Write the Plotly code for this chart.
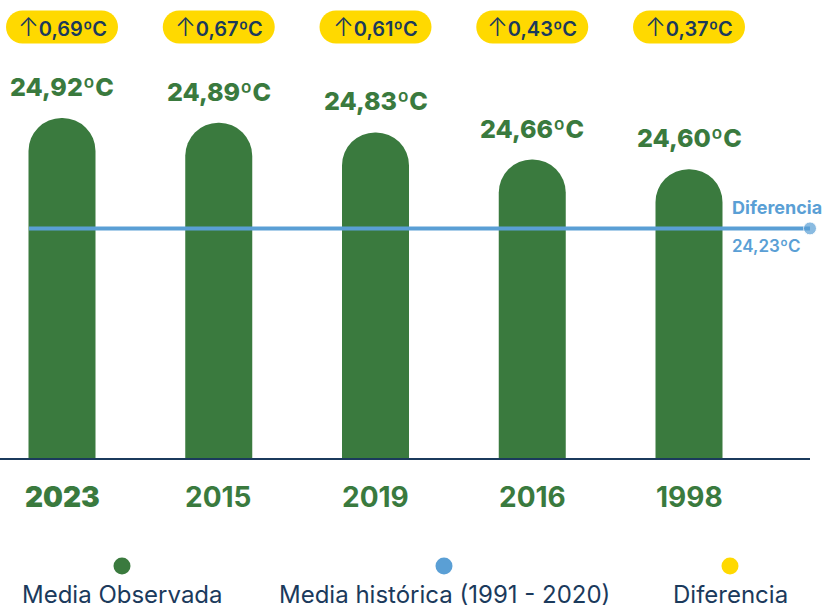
import plotly.graph_objects as go

# ---- data ----
years = ["2023", "2015", "2019", "2016", "1998"]
observed = [24.92, 24.89, 24.83, 24.66, 24.60]
observed_labels = ["24,92ºC", "24,89ºC", "24,83ºC", "24,66ºC", "24,60ºC"]
differences = ["0,69ºC", "0,67ºC", "0,61ºC", "0,43ºC", "0,37ºC"]
historical = 24.23
historical_label = "24,23ºC"
legend_names = ["Media Observada", "Media histórica (1991 - 2020)", "Diferencia"]

# ---- style ----
GREEN = "#3a7a3e"
BLUE = "#5a9fd5"
YELLOW = "#ffd900"
NAVY = "#1b3a5c"
FONT = "Inter"

W, H = 825, 608
ML, MR, MT, MB = 0, 15, 0, 150
PW, PH = W - ML - MR, H - MT - MB
STEP = 156.75          # px between category centres
FIRST = 62             # px of first category centre
PX_PER_UNIT = 160.0
Y0 = 22.795

x_idx = list(range(len(years)))
x_range = [-FIRST / STEP, (PW - FIRST) / STEP]
y_range = [Y0, Y0 + PH / PX_PER_UNIT]


def px_to_paper_x(px):
    return (px - ML) / PW


def px_to_paper_y(py):
    return (MT + PH - py) / PH


fig = go.Figure()

fig.add_trace(go.Bar(
    x=x_idx, y=observed, width=67 / STEP,
    marker=dict(color=GREEN, line=dict(width=0)),
    hoverinfo="skip", showlegend=False,
))

# historical line
line_x0 = x_range[0] + 29 / STEP
line_x1 = x_range[1]
fig.add_trace(go.Scatter(
    x=[line_x0, line_x1], y=[historical, historical],
    mode="lines+markers",
    line=dict(color=BLUE, width=4),
    marker=dict(size=[0, 13], color=BLUE),
    cliponaxis=False, hoverinfo="skip", showlegend=False,
))

annotations = []
shapes = []

# value labels above bars
for i, (v, lab) in enumerate(zip(observed, observed_labels)):
    annotations.append(dict(
        x=i, y=v, xref="x", yref="y", text=lab, showarrow=False,
        xanchor="center", yanchor="middle", yshift=31,
        font=dict(family=FONT, size=25, color=GREEN, weight=800),
    ))

# year labels
for i, yr in enumerate(years):
    annotations.append(dict(
        x=i, y=px_to_paper_y(497), xref="x", yref="paper", text=yr,
        showarrow=False, xanchor="center", yanchor="middle",
        font=dict(family=FONT, size=28, color=GREEN, weight=900 if i == 0 else 700),
    ))

# difference pills
pill_y = px_to_paper_y(27)
hw, hh = 56, 16.5
k = 0.5523 * hh
sx = hw - hh
pill_path = (
    f"M {-sx},{-hh} L {sx},{-hh} "
    f"C {sx + k},{-hh} {hw},{-k} {hw},0 "
    f"C {hw},{k} {sx + k},{hh} {sx},{hh} "
    f"L {-sx},{hh} "
    f"C {-sx - k},{hh} {-hw},{k} {-hw},0 "
    f"C {-hw},{-k} {-sx - k},{-hh} {-sx},{-hh} Z"
)
for i, d in enumerate(differences):
    shapes.append(dict(
        type="path", xref="x", yref="paper", xsizemode="pixel", ysizemode="pixel",
        xanchor=i, yanchor=pill_y, path=pill_path,
        fillcolor=YELLOW, line=dict(width=0), layer="below",
    ))
    annotations.append(dict(
        x=i, y=pill_y, xref="x", yref="paper",
        text=f"<span style='font-size:25px;font-weight:300'>↑</span>{d}",
        showarrow=False, xanchor="center", yanchor="middle",
        font=dict(family=FONT, size=20, color=NAVY, weight=600),
    ))

# labels near historical line end
annotations.append(dict(
    x=px_to_paper_x(730), y=px_to_paper_y(207), xref="paper", yref="paper",
    text="Diferencia", showarrow=False, xanchor="left", yanchor="middle",
    font=dict(family=FONT, size=18, color=BLUE, weight=700),
))
annotations.append(dict(
    x=px_to_paper_x(730), y=px_to_paper_y(246), xref="paper", yref="paper",
    text=historical_label, showarrow=False, xanchor="left", yanchor="middle",
    font=dict(family=FONT, size=17, color=BLUE, weight=600),
))

# custom legend
legend_colors = [GREEN, BLUE, YELLOW]
legend_px = [122, 444, 730]
for name, col, lx in zip(legend_names, legend_colors, legend_px):
    shapes.append(dict(
        type="circle", xref="paper", yref="paper", xsizemode="pixel", ysizemode="pixel",
        xanchor=px_to_paper_x(lx), yanchor=px_to_paper_y(566),
        x0=-8.5, x1=8.5, y0=-8.5, y1=8.5,
        fillcolor=col, line=dict(width=0),
    ))
    annotations.append(dict(
        x=px_to_paper_x(lx), y=px_to_paper_y(594), xref="paper", yref="paper",
        text=name, showarrow=False, xanchor="center", yanchor="middle",
        font=dict(family=FONT, size=24, color=NAVY, weight=400),
    ))

fig.update_layout(
    width=W, height=H, autosize=False,
    margin=dict(l=ML, r=MR, t=MT, b=MB),
    paper_bgcolor="white", plot_bgcolor="white",
    barcornerradius="50%",
    showlegend=False,
    xaxis=dict(range=x_range, showgrid=False, zeroline=False, showticklabels=False,
               ticks="", showline=True, linecolor=NAVY, linewidth=2, fixedrange=True),
    yaxis=dict(range=y_range, showgrid=False, zeroline=False, showticklabels=False,
               ticks="", showline=False, fixedrange=True),
    annotations=annotations,
    shapes=shapes,
)

fig.write_html(
    "out.html",
    config={"displayModeBar": False},
    post_script="document.body.style.margin='0';document.body.style.overflow='hidden';",
)
